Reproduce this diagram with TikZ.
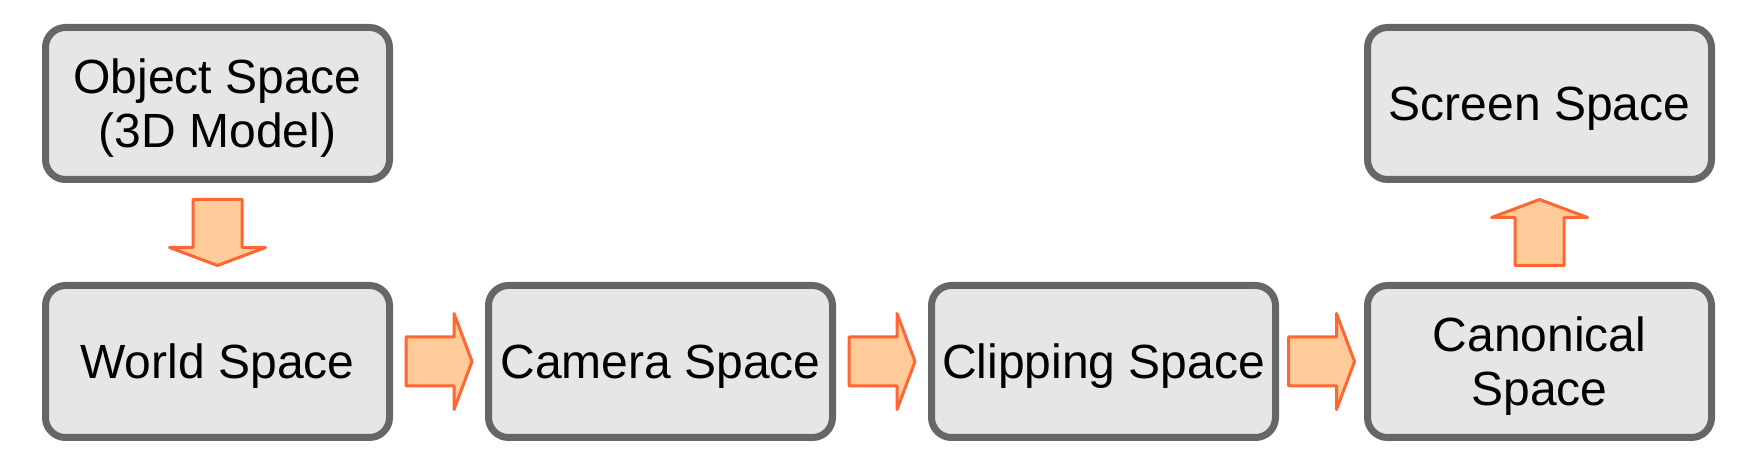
\documentclass[tikz,border=0pt]{standalone}
\usepackage{fontspec}
\setmainfont{Liberation Sans}
\usetikzlibrary{positioning, calc}
\definecolor{boxfill}{HTML}{E6E6E6}
\definecolor{boxline}{HTML}{666666}
\definecolor{arrfill}{HTML}{FFCC99}
\definecolor{arrline}{HTML}{FF6633}

\begin{document}
\begin{tikzpicture}[
    x=1pt, y=1pt,
    space/.style={draw=boxline, fill=boxfill, line width=7pt, rounded corners=20pt, minimum width=344pt, minimum height=152pt, align=center, inner sep=0pt, text depth=0pt, font=\fontsize{48}{54}\selectfont},
    blk/.style={draw=arrline, fill=arrfill, line width=3pt, line join=round},
    pics/bigarrow/.style={code={\draw[blk] (-33,-24.5) -- (15,-24.5) -- (15,-48) -- (33,0) -- (15,48) -- (15,24.5) -- (-33,24.5) -- cycle;}}
]
\useasboundingbox (0,0) rectangle (1751,471);
\node[space] (obj) at (217.5,367.5) {Object Space\\(3D Model)};
\node[space, below=99pt of obj] (world) {World Space};
\node[space, right=92pt of world] (camera) {Camera Space};
\node[space, right=92pt of camera] (clip) {Clipping Space};
\node[space, right=85pt of clip] (canon) {Canonical\\Space};
\node[space, above=99pt of canon] (screen) {Screen Space};

\foreach \a/\b in {world/camera, camera/clip, clip/canon}
  \pic at ($(\a.east)!0.5!(\b.west)$) {bigarrow};
\pic[rotate=-90] at ($(obj.south)!0.5!(world.north)$) {bigarrow};
\pic[rotate=90] at ($(canon.north)!0.5!(screen.south)$) {bigarrow};
\end{tikzpicture}
\end{document}
